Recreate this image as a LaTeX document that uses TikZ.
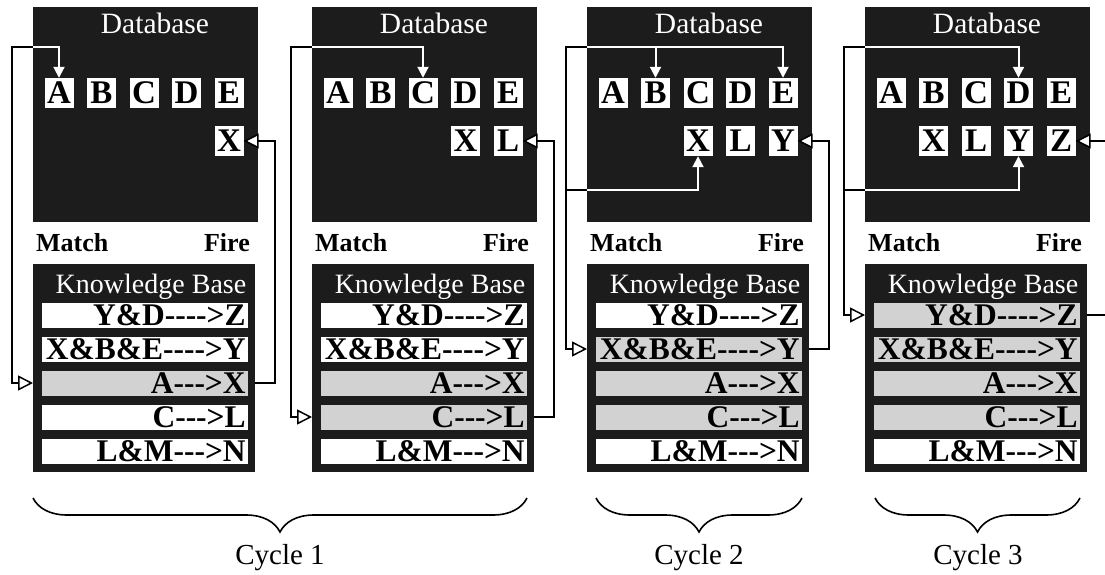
\documentclass[tikz,border=0pt]{standalone}
\usepackage{fontspec}
\setmainfont{Liberation Serif}
\usetikzlibrary{arrows.meta,decorations.pathreplacing}
\definecolor{dbk}{HTML}{1C1C1C}
\definecolor{shd}{HTML}{D2D2D2}
\newcommand\ruletext[1]{\ifcase#1\or Y\&D{-}{-}{-}{-}>Z\or X\&B\&E{-}{-}{-}{-}>Y\or A{-}{-}{-}>X\or C{-}{-}{-}>L\or L\&M{-}{-}{-}>N\fi}
\tikzset{
  db/.style={fill=dbk,minimum width=225pt,minimum height=215pt,inner sep=0pt,anchor=north west},
  kb/.style={fill=dbk,minimum width=222pt,minimum height=208pt,inner sep=0pt,anchor=north west},
  lbox/.style={fill=white,minimum width=29pt,minimum height=30pt,inner sep=0pt,font=\bfseries\fontsize{33}{33}\selectfont},
  rowbox/.style={fill=white,text width=201pt,align=right,inner xsep=2.5pt,inner ysep=0pt,minimum height=25pt,anchor=west,font=\bfseries\fontsize{31.5}{31.5}\selectfont},
  title/.style={text=white,inner sep=0pt,font=\fontsize{29.5}{29.5}\selectfont},
  kbtitle/.style={text=white,inner sep=0pt,font=\fontsize{28}{28}\selectfont},
  mf/.style={inner sep=0pt,font=\bfseries\fontsize{26}{26}\selectfont},
  cyc/.style={inner sep=0pt,font=\fontsize{29}{29}\selectfont},
  conn/.style={line width=2pt},
  connw/.style={line width=2pt,draw=white},
  brc/.style={line width=1.6pt,decorate,decoration={brace,mirror,amplitude=34pt}},
  ota/.tip={Triangle[length=15pt,width=15pt,fill=white,line width=1.5pt]},
  sta/.tip={Triangle[length=11pt,width=11pt]}
}
\newcommand\mkpanel[3]{%
  \node[db] (db#1) at (#2,7) {};
  \node[title] (dbt#1) at (#2+122,23) {Database};
  \foreach \L [count=\i from 0] in {A,B,C,D,E} {\node[lbox] (\L#1) at (#2+26+42.5*\i,93) {\L};}
  \node[mf,anchor=west] (mt#1) at (#2+3,243) {Match};
  \node[mf,anchor=east] (fi#1) at (#2+217,243) {Fire};
  \node[kb] (kb#1) at (#2,264) {};
  \node[kbtitle] (kbt#1) at (#2+118,287) {Knowledge Base};
  \foreach \c [count=\i] in {#3} {\node[rowbox,fill=\c] (r#1-\i) at (#2+9,315+34*\i-34) {\ruletext{\i}};}
}
\begin{document}
\begin{tikzpicture}[x=1pt,y=-1pt]
\useasboundingbox (0,0) rectangle (1105,575);
\clip (0,0) rectangle (1105,575);
\fill[white] (0,0) rectangle (1105,575);
% panels
\mkpanel{1}{33}{white,white,shd,white,white}
\mkpanel{2}{312}{white,white,shd,shd,white}
\mkpanel{3}{587}{white,shd,shd,shd,white}
\mkpanel{4}{865}{shd,shd,shd,shd,white}
% second row of facts
\node[lbox] (X1) at (E1 |- 0,141) {X};
\node[lbox] (X2) at (D2 |- 0,141) {X};
\node[lbox] (L2) at (E2 |- 0,141) {L};
\node[lbox] (X3) at (C3 |- 0,141) {X};
\node[lbox] (L3) at (D3 |- 0,141) {L};
\node[lbox] (Y3) at (E3 |- 0,141) {Y};
\node[lbox] (X4) at (B4 |- 0,141) {X};
\node[lbox] (L4) at (C4 |- 0,141) {L};
\node[lbox] (Y4) at (D4 |- 0,141) {Y};
\node[lbox] (Z4) at (E4 |- 0,141) {Z};
% cycle 1 connectors
\coordinate (m1) at (12,47);
\coordinate (f1) at (275,141);
\draw[conn,-ota] (db1.west |- m1) -- (m1) -- (m1 |- r1-3) -- (kb1.west |- r1-3);
\draw[connw,-sta] (db1.west |- m1) -- (A1.north |- m1) -- (A1.north);
\draw[conn,-ota] (kb1.east |- r1-3) -- (f1 |- r1-3) -- (f1) -- (X1.east);
% panel 2
\coordinate (m2) at (291,47);
\coordinate (f2) at (554,141);
\draw[conn,-ota] (db2.west |- m2) -- (m2) -- (m2 |- r2-4) -- (kb2.west |- r2-4);
\draw[connw,-sta] (db2.west |- m2) -- (C2.north |- m2) -- (C2.north);
\draw[conn,-ota] (kb2.east |- r2-4) -- (f2 |- r2-4) -- (f2) -- (L2.east);
% panel 3
\coordinate (m3) at (566,47);
\coordinate (n3) at (566,190);
\coordinate (f3) at (829,141);
\draw[conn,-ota] (db3.west |- m3) -- (m3) -- (m3 |- r3-2) -- (kb3.west |- r3-2);
\draw[conn] (n3) -- (db3.west |- n3);
\draw[connw,-sta] (db3.west |- m3) -- (E3.north |- m3) -- (E3.north);
\draw[connw,-sta] (B3.north |- m3) -- (B3.north);
\draw[connw,-sta] (db3.west |- n3) -- (X3.south |- n3) -- (X3.south);
\draw[conn,-ota] (kb3.east |- r3-2) -- (f3 |- r3-2) -- (f3) -- (Y3.east);
% panel 4
\coordinate (m4) at (844,47);
\coordinate (n4) at (844,190);
\coordinate (f4) at (1107,141);
\draw[conn,-ota] (db4.west |- m4) -- (m4) -- (m4 |- r4-1) -- (kb4.west |- r4-1);
\draw[conn] (n4) -- (db4.west |- n4);
\draw[connw,-sta] (db4.west |- m4) -- (D4.north |- m4) -- (D4.north);
\draw[connw,-sta] (db4.west |- n4) -- (Y4.south |- n4) -- (Y4.south);
\draw[conn,-ota] (kb4.east |- r4-1) -- (f4 |- r4-1) -- (f4) -- (Z4.east);
% braces
\coordinate (b1s) at (33,498); \coordinate (b1e) at (527,498);
\coordinate (b2s) at (596,498); \coordinate (b2e) at (802,498);
\coordinate (b3s) at (875,498); \coordinate (b3e) at (1080,498);
\draw[brc] (b1s) -- (b1e);
\draw[brc] (b2s) -- (b2e);
\draw[brc] (b3s) -- (b3e);
\node[cyc] (c1) at (280,558) {Cycle 1};
\node[cyc] (c2) at (699,558) {Cycle 2};
\node[cyc] (c3) at (978,558) {Cycle 3};
\end{tikzpicture}
\end{document}
